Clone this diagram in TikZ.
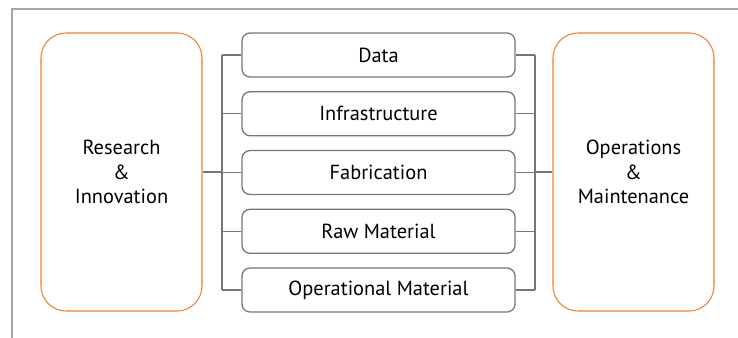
\documentclass[tikz,border=0pt]{standalone}
\usepackage{fontspec}
\setmainfont{PT Sans}
\usetikzlibrary{positioning}
\definecolor{edgeorange}{RGB}{240, 128, 48}
\definecolor{itemgray}{RGB}{125, 116, 111}
\definecolor{framegray}{RGB}{165, 165, 165}
\tikzset{
  sidebox/.style  = {rectangle, rounded corners=0.75cm, draw=edgeorange, line width=0.9pt, minimum width=4.83cm, minimum height=8.34cm, align=center, font=\fontsize{17.4}{20.7}\selectfont},
  itembox/.style  = {rectangle, rounded corners=0.24cm, draw=itemgray, line width=1.1pt, minimum width=8.19cm, minimum height=1.32cm, align=center, font=\fontsize{17.4}{20.7}\selectfont},
  link/.style     = {itemgray, line width=1.1pt},
}
\begin{document}
\begin{tikzpicture}[node distance=0.404cm]
  \useasboundingbox (0,0) rectangle (22.14,10.14);
  \draw[framegray, line width=0.9pt] (0.36,0) -- (0.36,9.87) -- (22.14,9.87);

  \node[sidebox] (rnd) at (3.645,4.98) {Research\\\&\\Innovation};
  \node[sidebox] (onm) at (19.005,4.98) {Operations\\\&\\Maintenance};

  \node[itembox] (data) at (11.355,8.49) {Data};
  \node[itembox, below=of data] (infra) {Infrastructure};
  \node[itembox, below=of infra] (fab) {Fabrication};
  \node[itembox, below=of fab] (raw) {Raw Material};
  \node[itembox, below=of raw] (opmat) {Operational Material};

  \coordinate (busl) at (6.66,4.98);
  \coordinate (busr) at (16.05,4.98);
  \foreach \n in {data,infra,fab,raw,opmat} {
    \draw[link] (\n.west) -- (\n.west -| busl);
    \draw[link] (\n.east) -- (\n.east -| busr);
  }
  \draw[link] (data.west -| busl) -- (opmat.west -| busl);
  \draw[link] (data.east -| busr) -- (opmat.east -| busr);
  \draw[link] (rnd.east) -- (busl);
  \draw[link] (busr) -- (onm.west);
\end{tikzpicture}
\end{document}
